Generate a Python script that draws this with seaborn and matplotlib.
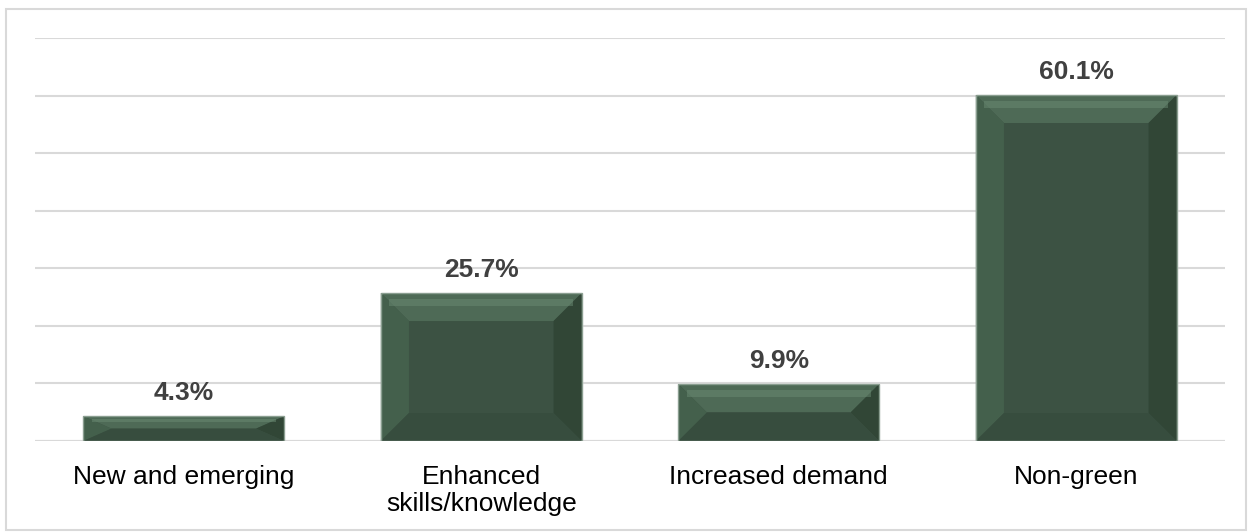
import numpy as np
import pandas as pd
import matplotlib.pyplot as plt
from matplotlib.patches import Polygon, Rectangle
import seaborn as sns

categories = ["New and emerging", "Enhanced\nskills/knowledge", "Increased demand", "Non-green"]
shares = [4.3, 25.7, 9.9, 60.1]

sns.set_theme(style="white")
plt.rcParams["font.family"] = ["Liberation Sans", "DejaVu Sans"]

df = pd.DataFrame({"category": categories, "share": shares})

fig = plt.figure(figsize=(12.53, 5.32), dpi=100)
ax = fig.add_axes([35 / 1253, 91 / 532, 1190 / 1253, 403 / 532])

sns.barplot(data=df, x="category", y="share", color="#3C5243", saturation=1,
            width=0.675, ax=ax, zorder=3)

ax.set_ylim(0, 70)
ax.set_xlim(-0.5, 3.5)
ax.set_yticks(np.arange(0, 71, 10))
ax.yaxis.grid(True, color="#D9D9D9", linewidth=1.5, zorder=0)
ax.tick_params(axis="y", left=False, labelleft=False)
ax.tick_params(axis="x", bottom=False, labelsize=19, pad=11, labelcolor="#000000")
for s in ax.spines.values():
    s.set_visible(False)
ax.axhline(0, color="#D9D9D9", linewidth=1.5, zorder=1)
ax.set_xlabel("")
ax.set_ylabel("")

# soft bevel shading on each bar, derived from the drawn patches
px_per_unit = 403 / 70
for p in ax.patches[:len(shares)]:
    x0, y0 = p.get_x(), p.get_y()
    w, h = p.get_width(), p.get_height()
    x1, y1 = x0 + w, y0 + h
    bx = w * 0.14
    by = min(28 / px_per_unit, h / 2)
    faces = [
        ([(x0, y1), (x1, y1), (x1 - bx, y1 - by), (x0 + bx, y1 - by)], "#4E6A56"),
        ([(x0, y0), (x0, y1), (x0 + bx, y1 - by), (x0 + bx, y0 + by)], "#44604C"),
        ([(x1, y0), (x1, y1), (x1 - bx, y1 - by), (x1 - bx, y0 + by)], "#314636"),
        ([(x0, y0), (x1, y0), (x1 - bx, y0 + by), (x0 + bx, y0 + by)], "#374D3E"),
    ]
    for pts, col in faces:
        ax.add_patch(Polygon(pts, closed=True, facecolor=col, edgecolor="none", zorder=4))
    # light highlight strip at the top edge
    ax.add_patch(Rectangle((x0 + bx * 0.3, y1 - by * 0.45), w - bx * 0.6, by * 0.25,
                           facecolor="#6A8A73", edgecolor="none", alpha=0.5, zorder=4))
    ax.add_patch(Rectangle((x0, y0), w, h, facecolor="none", edgecolor="#8A9E90",
                           linewidth=1, zorder=5))

for i, v in enumerate(shares):
    ax.annotate(f"{v}%", (i, v), xytext=(0, 8), textcoords="offset points",
                ha="center", va="bottom", fontsize=19, fontweight="bold",
                color="#404040")

fig.patches.append(Rectangle((6 / 1253, 2 / 532), 1240 / 1253, 521 / 532,
                             transform=fig.transFigure, fill=False,
                             edgecolor="#D9D9D9", linewidth=1.5))

fig.savefig("out.png", dpi=100)
